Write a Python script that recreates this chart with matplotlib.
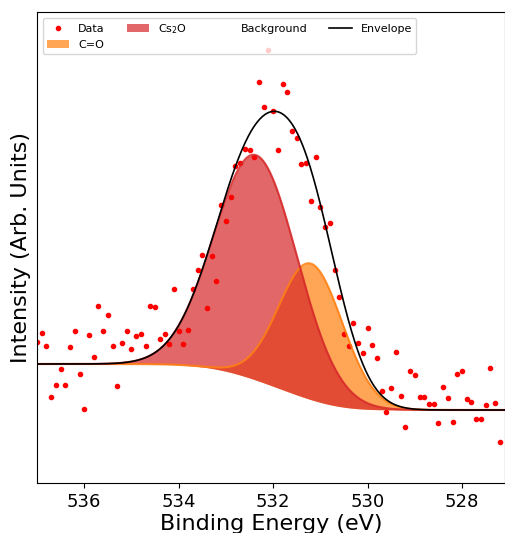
import numpy as np
import matplotlib.pyplot as plt

# O 1s region, 0.1 eV steps from 537.0 down to 527.2 eV
binding_energy = np.round(np.arange(537.0, 527.15, -0.1), 1)
counts = np.array([
    141, 150, 137, 86, 98, 114, 98, 136, 152, 109,
    74, 148, 126, 177, 152, 168, 137, 97, 140, 152,
    134, 147, 149, 137, 177, 176, 144, 149, 139, 194,
    152, 139, 153, 194, 213, 228, 175, 227, 202, 278,
    262, 286, 317, 320, 334, 333, 326, 401, 376, 433,
    372, 333, 399, 391, 352, 345, 319, 320, 282, 326,
    276, 256, 260, 213, 186, 149, 137, 160, 140, 130,
    155, 138, 125, 92, 71, 95, 131, 87, 56, 112,
    108, 86, 86, 79, 79, 60, 96, 85, 61, 109,
    112, 84, 81, 64, 64, 78, 115, 80, 41,
])

# fitted components
peak_labels = ['C=O', 'Cs$_2$O']
peak_centres = [531.2, 532.36]
peak_heights = [136, 225]
peak_fwhm = [1.6, 2.07]
peak_colours = ['tab:orange', 'tab:red']

# Shirley background levels on the high and low binding energy sides
bg_high = 119
bg_low = 73


def gaussian(x, centre, height, fwhm):
    sigma = fwhm / (2 * np.sqrt(2 * np.log(2)))
    return height * np.exp(-0.5 * ((x - centre) / sigma) ** 2)


def shirley(signal, high, low):
    """Shirley step for a signal ordered from high to low binding energy."""
    area_below = np.cumsum(signal[::-1])[::-1]
    return low + (high - low) * area_below / area_below[0]


x_fit = np.linspace(537.0, 527.1, 600)
components = [gaussian(x_fit, c, h, w)
              for c, h, w in zip(peak_centres, peak_heights, peak_fwhm)]
background = shirley(sum(components), bg_high, bg_low)
envelope = background + sum(components)

fig, ax = plt.subplots(figsize=(5.05, 5.33), dpi=100)
fig.subplots_adjust(left=37 / 505, right=504.5 / 505, bottom=50 / 533, top=521 / 533)

ax.plot(binding_energy, counts, 'r.', label='Data')
for label, comp, colour in zip(peak_labels, components, peak_colours):
    ax.fill_between(x_fit, background, background + comp,
                    color=colour, alpha=0.7, lw=0, label=label)
# outline the top of each component
for comp, colour in zip(components, peak_colours):
    ax.plot(x_fit, background + comp, color=colour, lw=1.5, alpha=0.85)
ax.plot(x_fit, background, alpha=0, label='Background')
ax.plot(x_fit, envelope, 'k', lw=1.2, label='Envelope')

ax.set_xlim(537.0, 527.1)
ax.set_ylim(0, 471)
ax.set_xticks([536, 534, 532, 530, 528])
ax.set_yticks([])
ax.tick_params(axis='x', labelsize=13)
ax.set_xlabel('Binding Energy (eV)', fontsize=16, labelpad=2)
ax.set_ylabel('Intensity (Arb. Units)', fontsize=16)
ax.legend(loc='upper left', ncol=4, fontsize=8)

fig.savefig('out.png', dpi=100)
